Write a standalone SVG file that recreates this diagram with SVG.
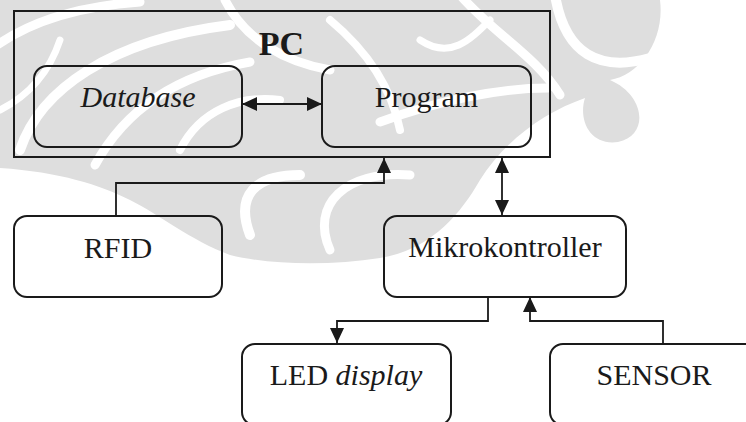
<svg xmlns="http://www.w3.org/2000/svg" width="746" height="422" viewBox="0 0 746 422">
  <defs>
    <marker id="arrow" viewBox="0 0 15 14" refX="15" refY="7" markerWidth="15" markerHeight="14" markerUnits="userSpaceOnUse" orient="auto-start-reverse">
      <path d="M0,0 L15,7 L0,14 Z" fill="#1a1a1a"/>
    </marker>
    <style>
      .box { fill: none; stroke: #1a1a1a; stroke-width: 2; }
      .frame { fill: none; stroke: #1a1a1a; stroke-width: 2; }
      .wire { fill: none; stroke: #1a1a1a; stroke-width: 1.8; }
      .label { font-family: "Liberation Serif", "Times New Roman", serif; font-size: 30px; fill: #1a1a1a; text-anchor: middle; }
      .title { font-family: "Liberation Serif", "Times New Roman", serif; font-size: 34px; font-weight: bold; fill: #1a1a1a; text-anchor: middle; }
      .orn { fill: #dedede; }
      .gap { fill: none; stroke: #ffffff; stroke-linecap: round; }
    </style>
  </defs>

  <rect width="746" height="422" fill="#ffffff"/>

  <!-- background ornament -->
  <g id="ornament">
    <path class="orn" d="M0,0 H660 C665,40 640,75 610,80 C645,95 650,135 618,142 C590,146 578,120 585,98 C545,112 505,140 480,180 C460,215 430,250 380,258 C330,266 270,265 230,255 C190,240 160,215 130,200 C100,185 60,172 0,168 Z"/>
    <path class="gap" stroke-width="9" d="M-10,50 C30,20 80,6 140,2"/>
    <path class="gap" stroke-width="10" d="M20,150 C40,90 110,40 230,25"/>
    <path class="gap" stroke-width="9" d="M95,165 C125,110 175,75 250,62"/>
    <path class="gap" stroke-width="7" d="M0,110 C30,95 50,70 60,40"/>
    <path class="gap" stroke-width="9" d="M225,0 C245,40 285,62 330,70"/>
    <path class="gap" stroke-width="8" d="M180,150 C200,110 240,95 280,100"/>
    <path class="gap" stroke-width="10" d="M250,235 C235,195 255,175 300,175"/>
    <path class="gap" stroke-width="9" d="M330,250 C310,205 345,170 410,175"/>
    <path class="gap" stroke-width="10" d="M555,-5 C565,55 600,72 650,58"/>
    <path class="gap" stroke-width="9" d="M460,-5 C495,35 535,55 560,95"/>
    <path class="gap" stroke-width="9" d="M380,122 C440,100 500,88 548,88"/>
    <path class="gap" stroke-width="8" d="M330,20 C360,45 390,80 400,130"/>
    <path class="gap" stroke-width="7" d="M420,40 C450,60 470,40 490,20"/>
  </g>

  <!-- PC container -->
  <g id="pc">
    <rect class="frame" x="14" y="11" width="536" height="146"/>
    <text class="title" x="281.5" y="55">PC</text>
  </g>

  <g id="database">
    <rect class="box" x="34" y="66" width="208" height="81" rx="13" ry="13"/>
    <text class="label" x="138" y="107" font-style="italic">Database</text>
  </g>

  <g id="program">
    <rect class="box" x="322" y="66" width="209" height="81" rx="13" ry="13"/>
    <text class="label" x="426.5" y="107">Program</text>
  </g>

  <g id="rfid">
    <rect class="box" x="14" y="216" width="208" height="81" rx="13" ry="13"/>
    <text class="label" x="118" y="258">RFID</text>
  </g>

  <g id="mikrokontroller">
    <rect class="box" x="384" y="216" width="242" height="81" rx="13" ry="13"/>
    <text class="label" x="505" y="257">Mikrokontroller</text>
  </g>

  <g id="led-display">
    <rect class="box" x="242" y="344" width="209" height="81" rx="13" ry="13"/>
    <text class="label" x="346" y="385">LED <tspan font-style="italic">display</tspan></text>
  </g>

  <g id="sensor">
    <rect class="box" x="550" y="344" width="210" height="81" rx="13" ry="13"/>
    <text class="label" x="654" y="385">SENSOR</text>
  </g>

  <!-- connectors -->
  <g id="connectors">
    <path class="wire" d="M242,104 H322" marker-start="url(#arrow)" marker-end="url(#arrow)"/>
    <path class="wire" d="M116,216 V183 H384 V158" marker-end="url(#arrow)"/>
    <path class="wire" d="M502,158 V215" marker-start="url(#arrow)" marker-end="url(#arrow)"/>
    <path class="wire" d="M488,297 V321 H337 V343" marker-end="url(#arrow)"/>
    <path class="wire" d="M663,344 V321 H530 V297" marker-end="url(#arrow)"/>
  </g>
</svg>
